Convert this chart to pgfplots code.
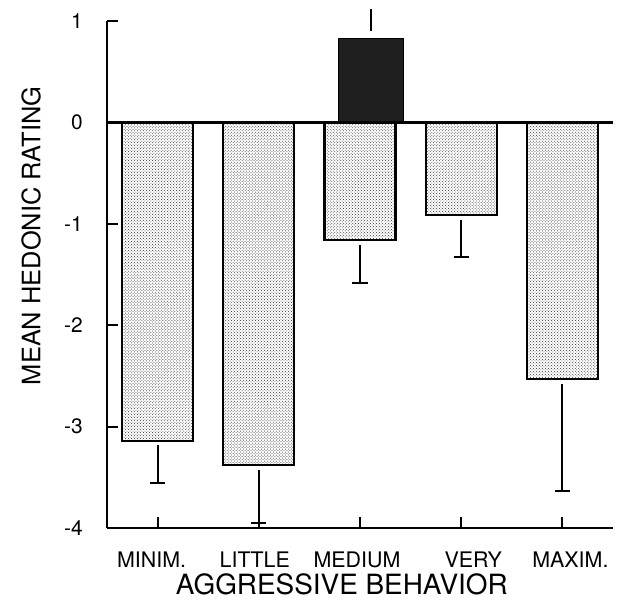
\documentclass[border=0pt]{standalone}
\usepackage{pgfplots}
\pgfplotsset{compat=1.18}
\usetikzlibrary{patterns}
\usepackage{fontspec}
\setmainfont{TeX Gyre Heros}
\begin{document}
\begin{tikzpicture}
\begin{axis}[
  name=ax,
  scale only axis, width=506bp, height=507bp,
  xmin=-0.5, xmax=4.5, ymin=-4, ymax=1,
  axis x line=bottom, axis y line=left,
  axis line style={-, line width=2.4bp, black},
  clip=false,
  unbounded coords=jump,
  xtick={0,1,2,3,4},
  xticklabels={{\hspace*{-12bp}MINIM.},{\hspace*{-8bp}LITTLE},{\hspace*{-6bp}MEDIUM},{\hspace*{24bp}VERY},{\hspace*{16bp}MAXIM.}},
  ytick={-4,-3,-2,-1,0,1},
  yticklabels={-4,-3,-2,-1,0,1},
  tick align=inside,
  major tick length=11bp,
  tick style={line width=2bp, black},
  x tick label style={font=\fontsize{21.5}{24}\selectfont, inner sep=0pt, anchor=north, yshift=-24bp},
  y tick label style={font=\fontsize{21}{24}\selectfont, inner sep=0pt, anchor=east, xshift=-24bp},
  xlabel={AGGRESSIVE BEHAVIOR},
  ylabel={MEAN HEDONIC RATING},
  xlabel style={font=\fontsize{28}{32}\selectfont, at={(axis description cs:0.464,-0.1105)}, anchor=center, inner sep=0pt},
  ylabel style={font=\fontsize{25.5}{30}\selectfont, at={(axis description cs:-0.150,0.576)}, anchor=center, inner sep=0pt},
]
\addplot[ybar, bar width=0.7, bar shift=0pt, draw=black, line width=2.2bp, fill=white,
  postaction={pattern=crosshatch dots, pattern color=black!80}]
  coordinates {(0,-3.14) (1,-3.38) (2,-1.16) (3,-0.91) (4,-2.53)};
\addplot[ybar, bar width=0.64, bar shift=0pt, draw=black, fill=black!88, line width=0.5bp]
  coordinates {(2.11,0.83)};
% error bar stems and caps
\addplot[black, line width=2bp, mark=none] coordinates {
  (0,-3.18) (0,-3.56) (nan,nan) (-0.075,-3.56) (0.075,-3.56) (nan,nan)
  (1,-3.43) (1,-3.95) (nan,nan) (0.925,-3.95) (1.075,-3.95) (nan,nan)
  (2,-1.21) (2,-1.58) (nan,nan) (1.925,-1.58) (2.075,-1.58) (nan,nan)
  (3,-0.96) (3,-1.33) (nan,nan) (2.925,-1.33) (3.075,-1.33) (nan,nan)
  (4,-2.58) (4,-3.64) (nan,nan) (3.925,-3.64) (4.075,-3.64) (nan,nan)
  (2.11,0.90) (2.11,1.12)
};
\addplot[line width=2.2bp, black] coordinates {(-0.5,0) (4.5,0)};
\end{axis}
\path (ax.south west) ++(-107bp,-78bp) rectangle ++(630bp,606bp);
\end{tikzpicture}
\end{document}
